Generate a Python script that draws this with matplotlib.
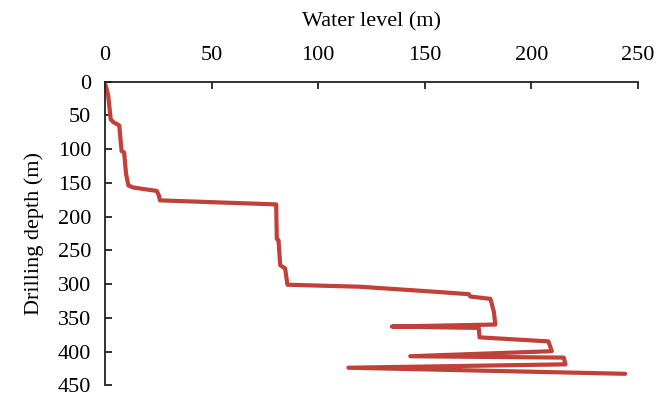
import matplotlib.pyplot as plt

# water level (m) vs drilling depth (m)
water_level = [0.3, 1.5, 2.7, 3.9, 6.7, 7.8, 9.0, 9.9, 11.0, 13.3, 24.3, 25.3, 25.8,
               80.3, 80.6, 81.4, 82.2, 84.5, 85.6, 119.7, 157.3, 170.6, 171.4,
               180.8, 182.4, 183.1, 134.6, 175.3, 175.7, 208.0, 209.6, 143.2,
               215.2, 216.0, 114.2, 244.0]
depth = [5, 20, 56, 60, 65, 103, 105, 137, 154, 157, 162, 169, 176,
         182, 233, 235, 272, 277, 301, 304, 312, 315, 318.5,
         322, 341, 360, 363, 365, 379, 385, 399.5, 407,
         409, 419, 424, 433]

x_ticks = [0, 50, 100, 150, 200, 250]
y_ticks = [0, 50, 100, 150, 200, 250, 300, 350, 400, 450]

plt.rcParams["font.family"] = ["Liberation Serif", "DejaVu Serif"]

fig = plt.figure(figsize=(6.56, 3.98), dpi=100)
ax = fig.add_axes([0.160, 0.032, 0.8125, 0.763])

ax.plot(water_level, depth, color="#c0403a", linewidth=3.0,
        solid_joinstyle="round", solid_capstyle="round")

ax.set_xlim(0, 250)
ax.set_ylim(450, 0)
ax.set_xticks(x_ticks)
ax.set_yticks(y_ticks)

ax.xaxis.set_ticks_position("top")
ax.xaxis.set_label_position("top")
ax.spines["bottom"].set_visible(False)
ax.spines["right"].set_visible(False)
for side in ("top", "left"):
    ax.spines[side].set_linewidth(1.3)
    ax.spines[side].set_color("#222222")

ax.tick_params(axis="both", direction="in", length=5, width=1.3,
               color="#222222", labelsize=16, pad=12)
ax.tick_params(axis="y", pad=10)

ax.set_xlabel("Water level (m)", fontsize=16, labelpad=14)
ax.set_ylabel("Drilling depth (m)", fontsize=16, labelpad=10)

fig.savefig("out.png", dpi=100)
